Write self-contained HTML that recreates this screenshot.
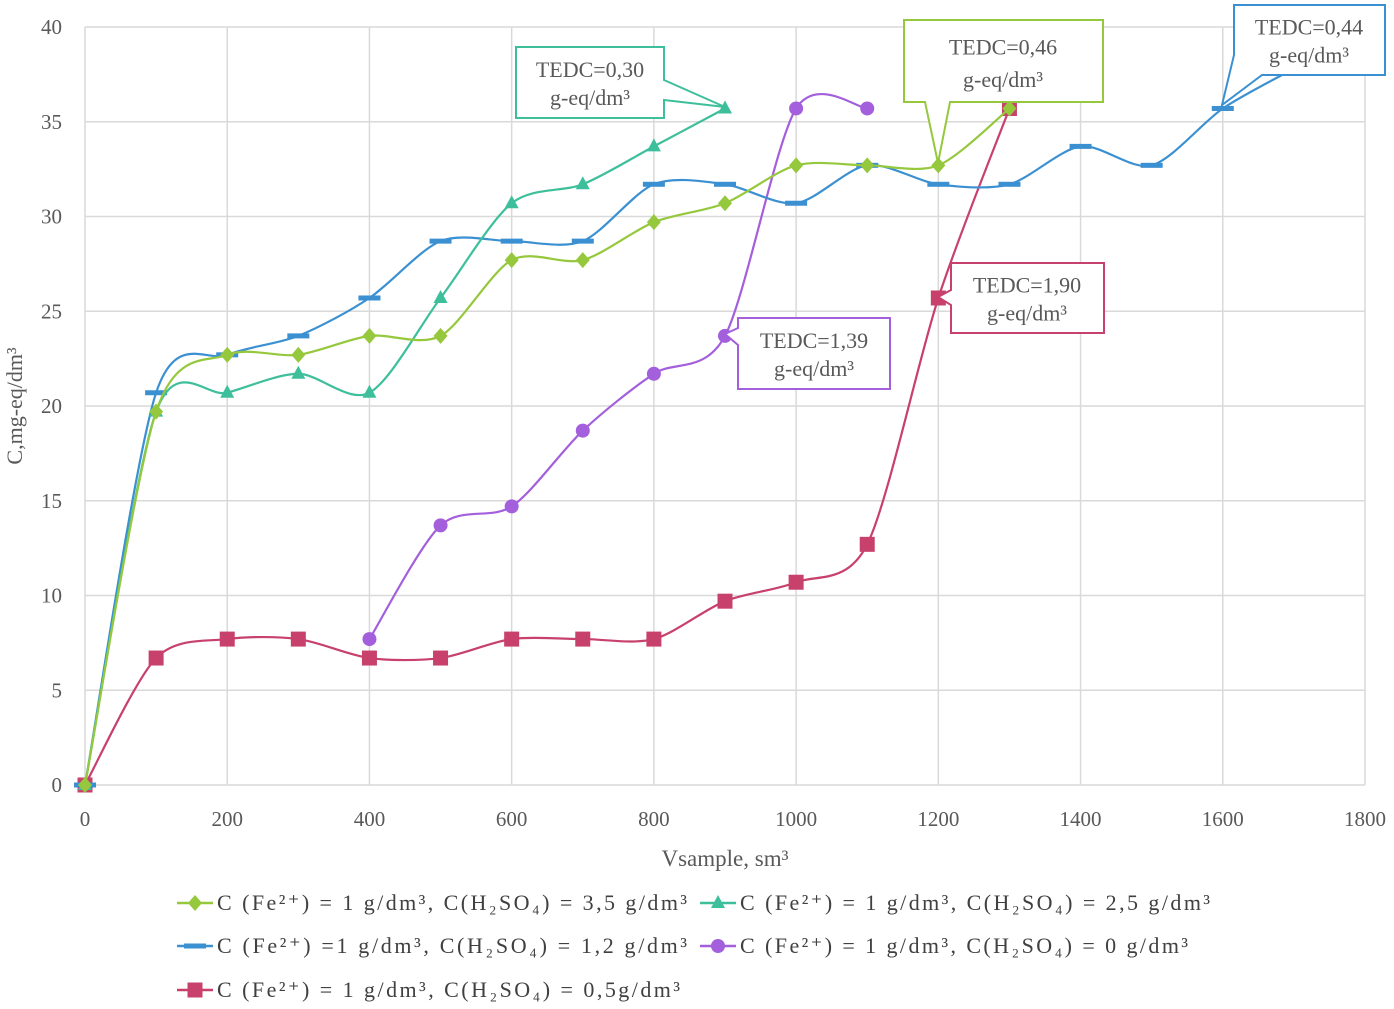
<!DOCTYPE html>
<html><head><meta charset="utf-8"><style>
body{margin:0;background:#fff;}
svg text{font-family:"Liberation Serif",serif;fill:#595959;}
</style></head><body>
<svg id="c" width="1394" height="1004" xmlns="http://www.w3.org/2000/svg"></svg>
<script>
const xTicks=[0,200,400,600,800,1000,1200,1400,1600,1800];
const yTicks=[0,5,10,15,20,25,30,35,40];
const xGreen=[0,100,200,300,400,500,600,700,800,900,1000,1100,1200,1300];
const yGreen=[0,19.7,22.7,22.7,23.7,23.7,27.7,27.7,29.7,30.7,32.7,32.7,32.7,35.7];
const xTeal=[0,100,200,300,400,500,600,700,800,900];
const yTeal=[0,19.7,20.7,21.7,20.7,25.7,30.7,31.7,33.7,35.7];
const xBlue=[0,100,200,300,400,500,600,700,800,900,1000,1100,1200,1300,1400,1500,1600,1700];
const yBlue=[0,20.7,22.7,23.7,25.7,28.7,28.7,28.7,31.7,31.7,30.7,32.7,31.7,31.7,33.7,32.7,35.7,37.8];
const xPurple=[400,500,600,700,800,900,1000,1100];
const yPurple=[7.7,13.7,14.7,18.7,21.7,23.7,35.7,35.7];
const xRed=[0,100,200,300,400,500,600,700,800,900,1000,1100,1200,1300];
const yRed=[0,6.7,7.7,7.7,6.7,6.7,7.7,7.7,7.7,9.7,10.7,12.7,25.7,35.7];
const NS="http://www.w3.org/2000/svg",svg=document.getElementById('c');
const X=v=>85+v*1280/1800, Y=v=>785-v*758/40;
function el(t,a,p){const e=document.createElementNS(NS,t);for(const k in a)e.setAttribute(k,a[k]);(p||svg).appendChild(e);return e;}
yTicks.forEach(v=>{const l=el('line',{x1:85,x2:1365,y1:Y(v),y2:Y(v),stroke:'#d9d9d9','stroke-width':1.5});


const t=el('text',{x:62,y:Y(v)+7,'text-anchor':'end','font-size':21});t.textContent=v;

});
xTicks.forEach(v=>{const l=el('line',{x1:X(v),x2:X(v),y1:27,y2:785,stroke:'#d9d9d9','stroke-width':1.5});


const t=el('text',{x:X(v),y:826,'text-anchor':'middle','font-size':21});t.textContent=v;

});
let t=el('text',{x:725,y:866,'text-anchor':'middle','font-size':23});t.textContent='Vsample, sm³';


t=el('text',{x:0,y:0,'text-anchor':'middle','font-size':22,transform:'translate(22,406) rotate(-90)'});t.textContent='C,mg-eq/dm³';


function path(xs,ys){const p=xs.map((x,i)=>[X(x),Y(ys[i])]);let d='M'+p[0].join(',');
for(let i=0;i<p.length-1;i++){const p0=p[i-1]||p[i],p1=p[i],p2=p[i+1],p3=p[i+2]||p2;
const k=7;const c1=[p1[0]+(p2[0]-p0[0])/k,p1[1]+(p2[1]-p0[1])/k],c2=[p2[0]-(p3[0]-p1[0])/k,p2[1]-(p3[1]-p1[1])/k];
d+=`C${c1} ${c2} ${p2}`;}return d;}
function marker(g,type,x,y,c){
if(type==='diamond')return el('polygon',{points:`${x},${y-8} ${x+7},${y} ${x},${y+8} ${x-7},${y}`,fill:c},g);
if(type==='tri')return el('polygon',{points:`${x},${y-8} ${x+7},${y+5} ${x-7},${y+5}`,fill:c},g);
if(type==='dash')return el('rect',{x:x-11,y:y-2.5,width:22,height:5,fill:c},g);
if(type==='circle')return el('circle',{cx:x,cy:y,r:7,fill:c},g);
return el('rect',{x:x-7.5,y:y-7.5,width:15,height:15,fill:c},g);}
const series=[[xRed,yRed,'#c8406c','square','series-h2so4-0-5'],[xPurple,yPurple,'#a35fdc','circle','series-h2so4-0'],
[xBlue,yBlue,'#3b90d2','dash','series-h2so4-1-2'],[xTeal,yTeal,'#3dbf9b','tri','series-h2so4-2-5'],[xGreen,yGreen,'#95c83c','diamond','series-h2so4-3-5']];
series.forEach(([xs,ys,c,m,n])=>{const g=el('g',{});


el('path',{d:path(xs,ys),fill:'none',stroke:c,'stroke-width':2.2},g);
xs.forEach((x,i)=>{if(n==='series-h2so4-1-2'&&x===1700)return;const mk=marker(g,m,X(x),Y(ys[i]),c);

});});
function callout(pts,cx,y,h,c,l1,n){const g=el('g',{});


el('polygon',{points:pts,fill:'#fff',stroke:c,'stroke-width':2},g);
let a=el('text',{x:cx,y:y+h*0.42,'text-anchor':'middle','font-size':22},g);a.textContent=l1;
a=el('text',{x:cx,y:y+h*0.82,'text-anchor':'middle','font-size':22},g);a.textContent='g-eq/dm³';}
callout('516,47 664,47 664,80 725,107 664,100 664,118 516,118',590,47,71,'#3dbf9b','TEDC=0,30','callout-teal');
callout('904,20 1103,20 1103,102 950,102 938,163 925,102 904,102',1003,20,82,'#95c83c','TEDC=0,46','callout-green');
callout('1234,5 1385,5 1385,75 1262,75 1222,105 1234,55',1309,5,70,'#3b90d2','TEDC=0,44','callout-blue');
callout('738,318 890,318 890,389 738,389 738,345 725,334 738,328',814,318,71,'#a35fdc','TEDC=1,39','callout-purple');
callout('951,263 1104,263 1104,333 951,333 951,305 938,297 951,290',1027,263,70,'#c8406c','TEDC=1,90','callout-red');
const leg=[['#95c83c','diamond','C (Fe²⁺) = 1 g/dm³, C(H₂SO₄) = 3,5 g/dm³',177,903,470],
['#3dbf9b','tri','C (Fe²⁺) = 1 g/dm³, C(H₂SO₄) = 2,5 g/dm³',700,903,470],
['#3b90d2','dash','C (Fe²⁺) =1  g/dm³, C(H₂SO₄) = 1,2 g/dm³',177,946,470],
['#a35fdc','circle','C (Fe²⁺) = 1 g/dm³, C(H₂SO₄) = 0 g/dm³',700,946,448],
['#c8406c','square','C (Fe²⁺) = 1 g/dm³, C(H₂SO₄) = 0,5g/dm³',177,990,463]];
leg.forEach(([c,m,txt,x,y,w])=>{const g=el('g',{});


el('line',{x1:x,x2:x+36,y1:y,y2:y,stroke:c,'stroke-width':2.5},g);marker(g,m,x+18,y,c);
const tt=el('text',{x:x+40,y:y+7,'font-size':22,textLength:w,lengthAdjust:'spacing'},g);tt.style.fill='#404040';tt.textContent=txt;});
</script></body></html>
